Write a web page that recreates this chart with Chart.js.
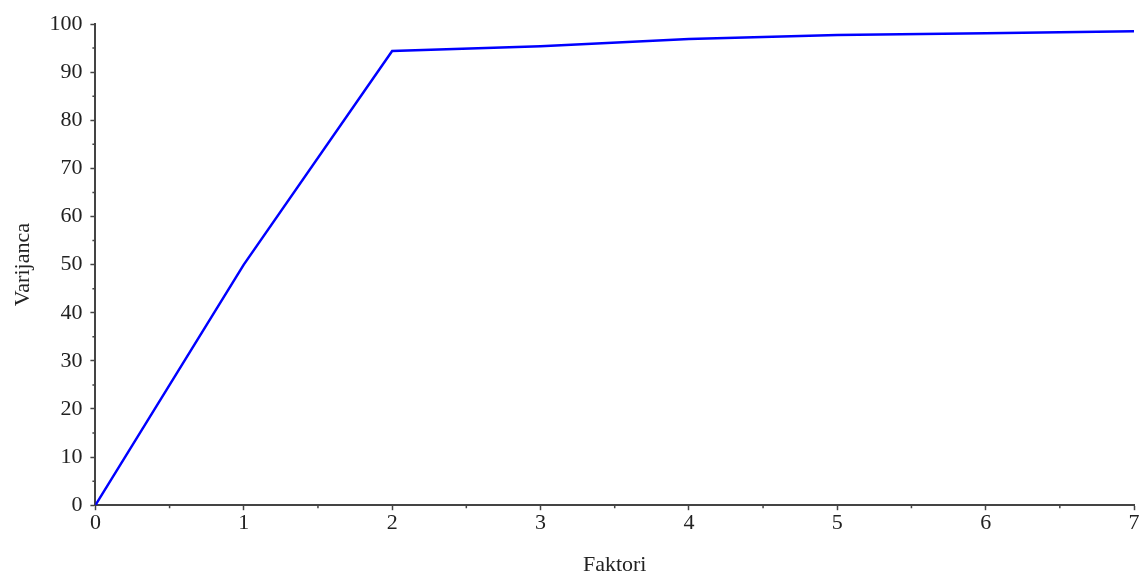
<!DOCTYPE html>
<html>
<head>
    <meta charset="utf-8">
    <title>Varijanca</title>
    <script src="https://cdn.jsdelivr.net/npm/chart.js"></script>
</head>
<body style="margin:0; background-color:white;">
<div style="width:1140px; height:575px;">
<canvas id="myChart"></canvas>
</div>
<script>
    const faktori = [0, 1, 2, 3, 4, 5, 6, 7];
    const varijanca = [0, 50, 94.4, 95.4, 96.9, 97.7, 98.1, 98.5];

    const axisColor = '#444';
    const font = { family: '"Liberation Serif", "Times New Roman", serif', size: 22 };

    // short unlabelled ticks between the labelled ones
    const minorTicks = {
        id: 'minorTicks',
        afterDraw(chart) {
            const c = chart.ctx;
            const xs = chart.scales.x, ys = chart.scales.y;
            c.save();
            c.strokeStyle = axisColor;
            c.lineWidth = 1.5;
            c.beginPath();
            for (let v = 0.5; v < 7; v += 1) {
                const px = xs.getPixelForValue(v);
                c.moveTo(px, ys.bottom);
                c.lineTo(px, ys.bottom + 3);
            }
            for (let v = 5; v < 100; v += 10) {
                const py = ys.getPixelForValue(v);
                c.moveTo(xs.left, py);
                c.lineTo(xs.left - 3, py);
            }
            c.stroke();
            c.restore();
        }
    };

    const ctx = document.getElementById('myChart').getContext('2d');
    window.myChart = new Chart(ctx, {
        type: 'line',
        data: {
            datasets: [{
                data: faktori.map((f, i) => ({ x: f, y: varijanca[i] })),
                borderColor: '#0000ff',
                borderWidth: 2.5,
                pointRadius: 0,
                fill: false,
                tension: 0
            }]
        },
        options: {
            responsive: true,
            maintainAspectRatio: false,
            animation: false,
            layout: { padding: { top: 24, right: 6, left: 10, bottom: -3 } },
            plugins: { legend: { display: false }, tooltip: { enabled: false } },
            scales: {
                x: {
                    type: 'linear',
                    min: 0, max: 7,
                    ticks: { stepSize: 1, color: '#222', font: font, padding: 0, maxRotation: 0 },
                    grid: { drawOnChartArea: false, tickLength: 5, tickColor: axisColor, tickWidth: 1.5 },
                    border: { color: axisColor, width: 2 },
                    title: { display: true, text: 'Faktori', color: '#222', font: font, padding: { top: 15, bottom: 0 } }
                },
                y: {
                    min: 0, max: 100,
                    ticks: { stepSize: 10, color: '#222', font: font, padding: 8 },
                    grid: { drawOnChartArea: false, tickLength: 5, tickColor: axisColor, tickWidth: 1.5 },
                    border: { color: axisColor, width: 2 },
                    title: { display: true, text: 'Varijanca', color: '#222', font: font, padding: { top: 0, bottom: 5 } }
                }
            }
        },
        plugins: [minorTicks]
    });
</script>
</body>
</html>
